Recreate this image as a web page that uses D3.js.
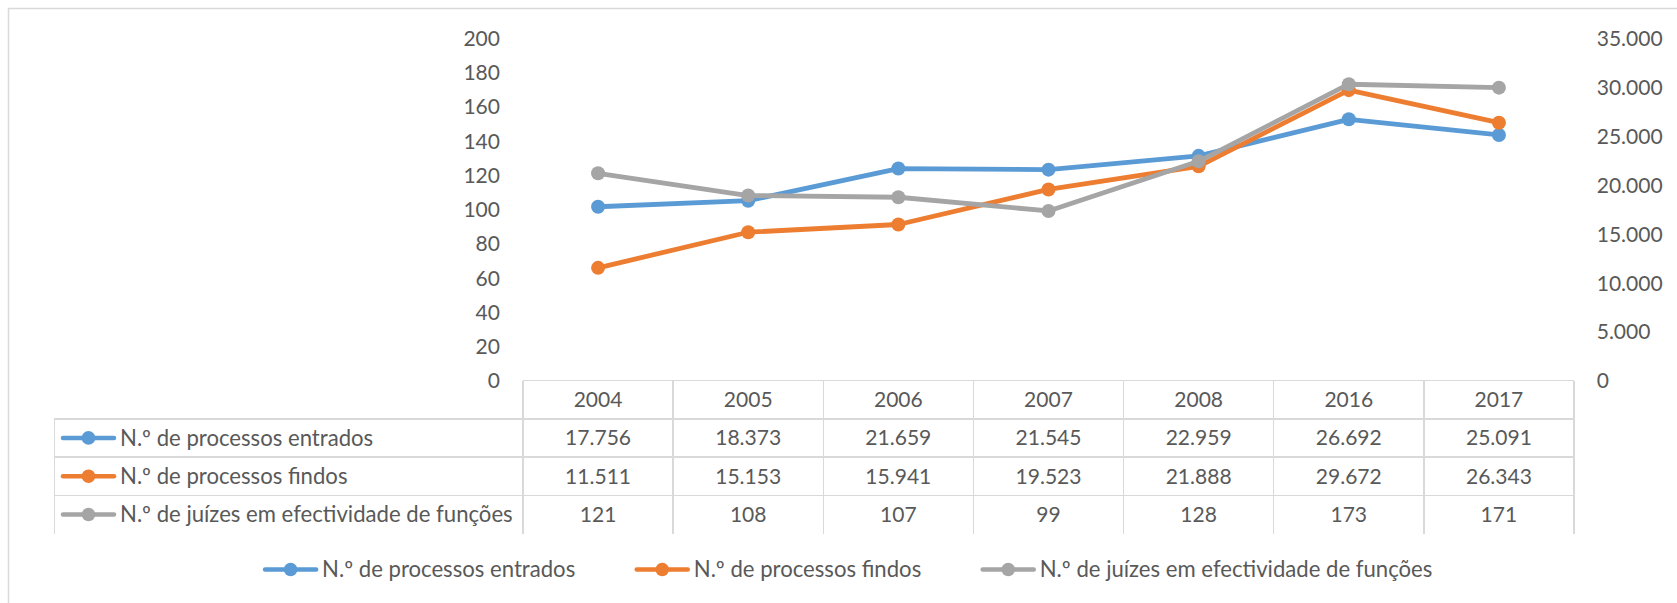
<!DOCTYPE html>
<html><head><meta charset="utf-8">
<script src="https://cdn.jsdelivr.net/npm/d3@7"></script>
<style>body{margin:0;background:#fff;overflow:hidden}</style>
</head><body>
<svg id="c" width="1677" height="603"></svg>
<script>
// ---- data ----
const years = ["2004","2005","2006","2007","2008","2016","2017"];
const seriesNames = ["N.º de processos entrados","N.º de processos findos","N.º de juízes em efectividade de funções"];
const entrados = [17756,18373,21659,21545,22959,26692,25091];
const findos = [11511,15153,15941,19523,21888,29672,26343];
const juizes = [121,108,107,99,128,173,171];
const leftTicks = [0,20,40,60,80,100,120,140,160,180,200];
const rightTicks = [0,5000,10000,15000,20000,25000,30000,35000];
const seriesColors = ["#5B9BD5","#ED7D31","#A5A5A5"];

// ---- setup ----
const svg = d3.select("#c");
const FONT = "Lato, 'Open Sans', sans-serif";
const TXT = "#595959";
const GRID = "#D9D9D9";
const loc = d3.formatLocale({decimal:",", thousands:".", grouping:[3], currency:["","€"]});
const fmt = loc.format(",d");

function measure(str, fs){
  const t = svg.append("text").attr("font-family",FONT).attr("font-size",fs).text(str);
  const w = t.node().getComputedTextLength(); t.remove(); return w;
}
const txtFs = 100 * 393 / measure(seriesNames[2], 100);
const numFs = 100 * 66 / measure("35.000", 100);

// outer chart border
svg.append("rect").attr("x",8.5).attr("y",8.5).attr("width",1800).attr("height",800)
  .attr("fill","none").attr("stroke",GRID).attr("stroke-width",1.5);

const plotL = 523, plotR = 1574, plotT = 38, plotB = 380.5;
const x = d3.scaleBand().domain(years).range([plotL, plotR]);
const yL = d3.scaleLinear().domain([0,200]).range([plotB, plotT]);
const yR = d3.scaleLinear().domain([0,35000]).range([plotB, plotT]);

// axes
const axL = svg.append("g").attr("transform",`translate(${plotL},0)`)
  .call(d3.axisLeft(yL).tickValues(leftTicks).tickSize(0).tickPadding(23));
const axR = svg.append("g").attr("transform",`translate(${plotR},0)`)
  .call(d3.axisRight(yR).tickValues(rightTicks).tickSize(0).tickPadding(22.7).tickFormat(fmt));
[axL, axR].forEach(a => {
  a.select(".domain").remove();
  a.selectAll("text").attr("font-family",FONT).attr("font-size",numFs).attr("fill",TXT).attr("dy","0.35em");
});

// data table
const rowH = 38.27, labelL = 54.3;
const rows = [entrados, findos, juizes];
const tg = svg.append("g");
const lineAttr = s => s.attr("stroke",GRID).attr("stroke-width",1.5).attr("shape-rendering","crispEdges");
// horizontal lines
tg.append("line").attr("x1",plotL).attr("x2",plotR).attr("y1",plotB).attr("y2",plotB).call(lineAttr);
for (let i=1;i<=3;i++){
  const yy = plotB + rowH*i;
  tg.append("line").attr("x1",labelL).attr("x2",plotR).attr("y1",yy).attr("y2",yy).call(lineAttr);
}
const tableB = plotB + rowH*4;
// vertical lines
tg.append("line").attr("x1",labelL).attr("x2",labelL).attr("y1",plotB+rowH).attr("y2",tableB).call(lineAttr);
years.forEach((yr,i)=>{
  const xx = x(yr);
  tg.append("line").attr("x1",xx).attr("x2",xx).attr("y1",plotB).attr("y2",tableB).call(lineAttr);
});
tg.append("line").attr("x1",plotR).attr("x2",plotR).attr("y1",plotB).attr("y2",tableB).call(lineAttr);

// header
tg.selectAll("text.yr").data(years).join("text").attr("class","yr")
  .attr("x",d=>x(d)+x.bandwidth()/2).attr("y",plotB+rowH/2).attr("dy","0.35em")
  .attr("text-anchor","middle").attr("font-family",FONT).attr("font-size",numFs).attr("fill",TXT).text(d=>d);

// legend symbol
function symbol(g, cx, cy, color){
  g.append("line").attr("x1",cx-25.5).attr("x2",cx+25.5).attr("y1",cy).attr("y2",cy)
    .attr("stroke",color).attr("stroke-width",4.5).attr("stroke-linecap","round");
  g.append("circle").attr("cx",cx).attr("cy",cy).attr("r",6.8).attr("fill",color);
}

rows.forEach((vals,r)=>{
  const cy = plotB + rowH*(r+1) + rowH/2;
  symbol(tg, 88.5, cy, seriesColors[r]);
  tg.append("text").attr("x",120).attr("y",cy).attr("dy","0.35em")
    .attr("font-family",FONT).attr("font-size",txtFs).attr("fill",TXT).text(seriesNames[r]);
  tg.selectAll(null).data(vals).join("text")
    .attr("x",(d,i)=>x(years[i])+x.bandwidth()/2).attr("y",cy).attr("dy","0.35em")
    .attr("text-anchor","middle").attr("font-family",FONT).attr("font-size",numFs).attr("fill",TXT)
    .text(d=>fmt(d));
});

// series lines
const series = [
  {vals:entrados, y:yR, color:seriesColors[0]},
  {vals:findos, y:yR, color:seriesColors[1]},
  {vals:juizes, y:yL, color:seriesColors[2]}
];
series.forEach(s=>{
  const line = d3.line().x((d,i)=>x(years[i])+x.bandwidth()/2).y(d=>s.y(d));
  svg.append("path").attr("d",line(s.vals)).attr("fill","none").attr("stroke",s.color)
    .attr("stroke-width",4.8).attr("stroke-linejoin","round").attr("stroke-linecap","round");
  svg.selectAll(null).data(s.vals).join("circle")
    .attr("cx",(d,i)=>x(years[i])+x.bandwidth()/2).attr("cy",d=>s.y(d)).attr("r",7)
    .attr("fill",s.color);
});

// bottom legend
const legY = 569.5;
const symW = 56, symGap = 3.5, itemGap = 59;
const widths = seriesNames.map(n=>measure(n, txtFs));
const total = d3.sum(widths) + 3*(symW+symGap) + 2*itemGap;
let lx = 847.5 - total/2;
const lg = svg.append("g");
seriesNames.forEach((n,i)=>{
  symbol(lg, lx + symW/2, legY, seriesColors[i]);
  lg.append("text").attr("x",lx+symW+symGap).attr("y",legY).attr("dy","0.35em")
    .attr("font-family",FONT).attr("font-size",txtFs).attr("fill",TXT).text(n);
  lx += symW + symGap + widths[i] + itemGap;
});
</script>
</body></html>
